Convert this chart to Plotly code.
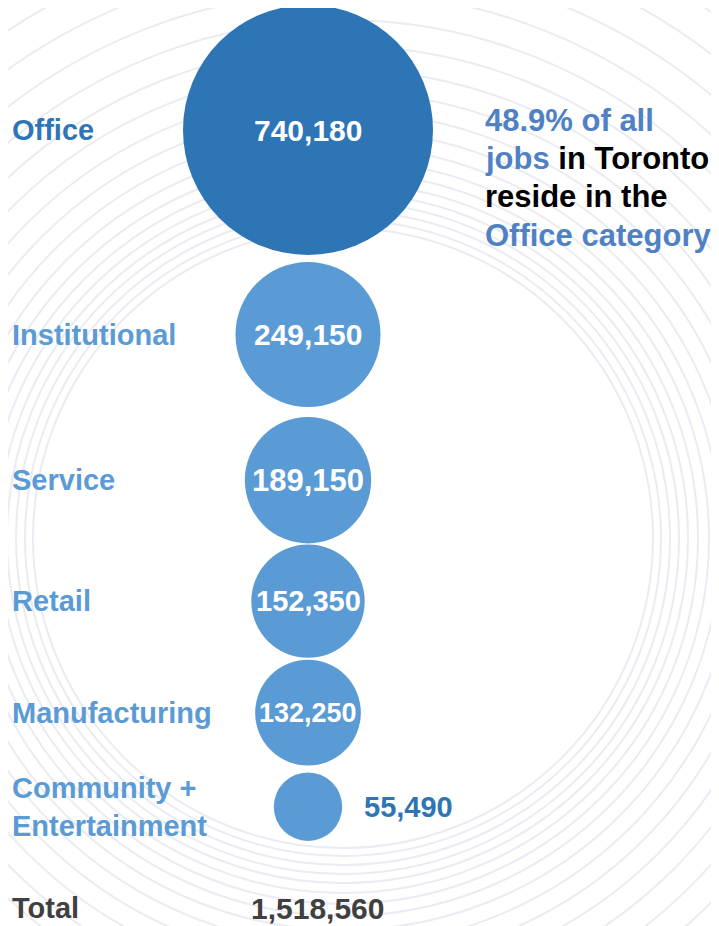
import math
import plotly.graph_objects as go

# ---------------- data ----------------
categories = ["Office", "Institutional", "Service", "Retail", "Manufacturing",
              "Community +<br>Entertainment"]
jobs = [740180, 249150, 189150, 152350, 132250, 55490]
value_labels = ["740,180", "249,150", "189,150", "152,350", "132,250", "55,490"]
total_label = "Total"
total_value = "1,518,560"
callout_lines = [
    [("48.9% of all", "blue")],
    [("jobs", "blue"), (" in Toronto", "black")],
    [("reside in the", "black")],
    [("Office category", "blue")],
]

# ---------------- style ----------------
W, H = 719, 926
PAGE_OFFSET = 8      # default body margin of the page
DARK = "#2e75b6"
LIGHT = "#5b9bd5"
CALLOUT_BLUE = "#4f81c4"
RING = "#eaebf3"
FONT = "Liberation Sans, Arial, Helvetica, sans-serif"
MAX_D = 250          # diameter in px of the largest bubble
BUBBLE_X = 308
TOP = 5
GAPS = [7, 10, 1, 2, 7]   # vertical spacing between stacked bubbles (px)
bubble_colors = [DARK] + [LIGHT] * 5
label_colors = [DARK] + [LIGHT] * 5
inner_font = [30, 30, 31, 29, 27, 29]
ring_center = (343, 538)
ring_radii = [310, 318, 327, 336, 345, 355, 366, 378, 392, 408, 426, 446,
              468, 492, 518, 546, 576, 608, 642, 678]

# marker scale (area-proportional), same formula plotly uses
sizeref = 2.0 * max(jobs) / MAX_D ** 2
radii = [math.sqrt(v / 2.0 / sizeref) for v in jobs]
ys = []
for i, r in enumerate(radii):
    if i == 0:
        ys.append(TOP + r)
    else:
        ys.append(ys[-1] + radii[i - 1] + GAPS[i - 1] + r)

fig = go.Figure()

# background rings
shapes = []
cx, cy = ring_center
for r in ring_radii:
    shapes.append(dict(type="circle", xref="x", yref="y", layer="below",
                       x0=cx - r, x1=cx + r, y0=cy - r, y1=cy + r,
                       line=dict(color=RING, width=2)))

fig.add_trace(go.Scatter(
    x=[BUBBLE_X] * len(jobs), y=ys, mode="markers",
    marker=dict(size=jobs, sizemode="area", sizeref=sizeref,
                color=bubble_colors, opacity=1, line=dict(width=0)),
    hoverinfo="skip", showlegend=False, cliponaxis=False,
))

ann = []
for i, (cat, lab, y, r) in enumerate(zip(categories, value_labels, ys, radii)):
    ann.append(dict(x=10, y=y, xref="x", yref="y", xanchor="left", yanchor="middle",
                    text=f"<b>{cat}</b>", showarrow=False, align="left",
                    font=dict(family=FONT, size=29, color=label_colors[i])))
    if i < len(jobs) - 1:
        ann.append(dict(x=BUBBLE_X, y=y, xref="x", yref="y", xanchor="center",
                        yanchor="middle", text=f"<b>{lab}</b>", showarrow=False,
                        font=dict(family=FONT, size=inner_font[i], color="white")))
    else:
        ann.append(dict(x=BUBBLE_X + r + 20, y=y, xref="x", yref="y", xanchor="left",
                        yanchor="middle", text=f"<b>{lab}</b>", showarrow=False,
                        font=dict(family=FONT, size=inner_font[i], color=DARK)))

ann.append(dict(x=10, y=908, xref="x", yref="y", xanchor="left", yanchor="middle",
                text=f"<b>{total_label}</b>", showarrow=False,
                font=dict(family=FONT, size=29, color="#404040")))
ann.append(dict(x=317, y=908, xref="x", yref="y", xanchor="center", yanchor="middle",
                text=f"<b>{total_value}</b>", showarrow=False,
                font=dict(family=FONT, size=30, color="#404040")))

color_map = {"blue": CALLOUT_BLUE, "black": "#000000"}
line_y = [120, 158, 196, 235]
for ly, parts in zip(line_y, callout_lines):
    txt = "".join(f"<span style='color:{color_map[c]}'>{t}</span>" for t, c in parts)
    ann.append(dict(x=483, y=ly, xref="x", yref="y", xanchor="left", yanchor="middle",
                    text=f"<b>{txt}</b>", showarrow=False,
                    font=dict(family=FONT, size=31, color="#000000")))

fig.update_layout(
    width=W - PAGE_OFFSET, height=H - PAGE_OFFSET,
    margin=dict(l=0, r=0, t=0, b=0, pad=0),
    paper_bgcolor="white", plot_bgcolor="white",
    xaxis=dict(range=[PAGE_OFFSET, W], visible=False, fixedrange=True),
    yaxis=dict(range=[H, PAGE_OFFSET], visible=False, fixedrange=True),
    shapes=shapes, annotations=ann, showlegend=False,
)

fig.write_html("out.html")
